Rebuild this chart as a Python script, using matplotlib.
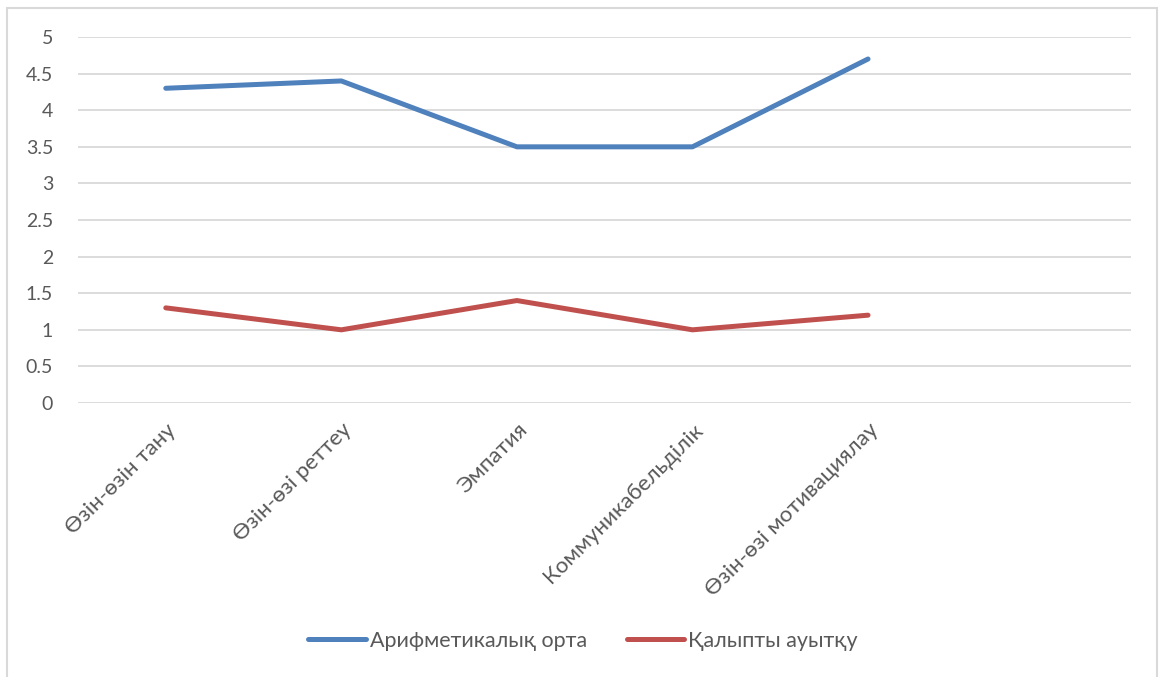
import matplotlib.pyplot as plt
from matplotlib.patches import Rectangle

categories = ['Өзін-өзін тану', 'Өзін-өзі реттеу', 'Эмпатия', 'Коммуникабельділік', 'Өзін-өзі мотивациялау']
mean_vals = [4.3, 4.4, 3.5, 3.5, 4.7]
std_vals = [1.3, 1.0, 1.4, 1.0, 1.2]
series_names = ['Арифметикалық орта', 'Қалыпты ауытқу']

plt.rcParams['font.family'] = ['Lato', 'DejaVu Sans']
text_color = '#595959'

fig = plt.figure(figsize=(11.66, 6.77), dpi=100)
ax = fig.add_axes([0.0669, 0.4047, 0.9034, 0.5406])

# outer chart frame
fig.patches.append(Rectangle((7 / 1166, -0.05), 1150 / 1166, 1.05 - 8 / 677,
                             transform=fig.transFigure, fill=False,
                             edgecolor='#D9D9D9', linewidth=1.5))

x = list(range(len(categories)))
ax.plot(x, mean_vals, color='#4F81BD', linewidth=3.6, solid_capstyle='round',
        label=series_names[0])
ax.plot(x, std_vals, color='#C0504D', linewidth=3.6, solid_capstyle='round',
        label=series_names[1])

ax.set_xlim(-0.5, 5.5)
ax.set_ylim(0, 5)
ax.set_yticks([0, 0.5, 1, 1.5, 2, 2.5, 3, 3.5, 4, 4.5, 5])
ax.set_yticklabels(['0', '0.5', '1', '1.5', '2', '2.5', '3', '3.5', '4', '4.5', '5'])
ax.grid(axis='y', color='#D9D9D9', linewidth=1.3)
ax.set_axisbelow(True)
for s in ax.spines.values():
    s.set_visible(False)
ax.tick_params(axis='y', length=0, pad=18, labelsize=14, labelcolor=text_color)
ax.tick_params(axis='x', length=0, pad=12, labelsize=16, labelcolor=text_color)
ax.set_xticks(x)
ax.set_xticklabels(categories, rotation=45, ha='right', rotation_mode='anchor')

ax.legend(loc='center', bbox_to_anchor=(0.5, 1 - 641 / 677), bbox_transform=fig.transFigure,
          ncol=2, frameon=False, fontsize=15.5, labelcolor=text_color,
          handlelength=2.65, handletextpad=0.19, columnspacing=1.86)

fig.savefig('out.png', dpi=100)
